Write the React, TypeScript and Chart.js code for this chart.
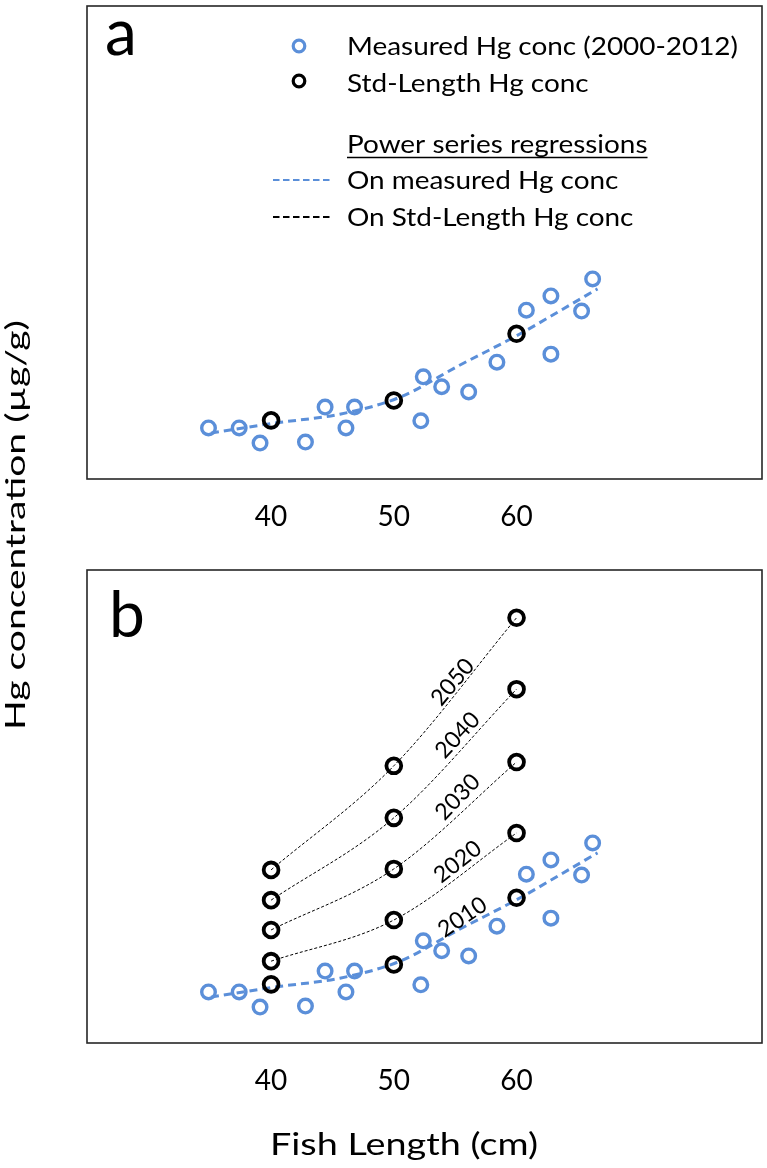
import React, { useEffect, useLayoutEffect, useRef } from "react";
import { Chart, registerables } from "chart.js";

Chart.register(...registerables);

const FONT = "Lato, 'Open Sans', sans-serif";
const BLUE = "#5b8fd9";

// ---- data (fish length in cm, Hg concentration in µg/g) ----
const measuredLength = [34.9, 37.4, 39.1, 42.8, 44.4, 46.1, 46.8, 52.2, 52.4, 53.9, 56.1, 58.4, 60.8, 62.8, 62.8, 65.3, 66.2];
const measuredHg = [0.108, 0.108, 0.076, 0.078, 0.152, 0.108, 0.152, 0.123, 0.216, 0.195, 0.184, 0.247, 0.357, 0.387, 0.264, 0.355, 0.423];

// power-series regression on measured Hg conc
const fitLength = [35.1, 40.2, 45.6, 50.5, 55.4, 60.3, 63.5, 66.6];
const fitHg = [0.097, 0.118, 0.137, 0.173, 0.241, 0.307, 0.355, 0.402];

// standard-length Hg conc by year
const stdLength = [40, 50, 60];
const stdYears = ["2010", "2020", "2030", "2040", "2050"];
const std2010 = [0.124, 0.166, 0.307];
const std2020 = [0.173, 0.26, 0.444];
const std2030 = [0.239, 0.368, 0.594];
const std2040 = [0.302, 0.476, 0.748];
const std2050 = [0.366, 0.586, 0.899];
const stdSeries = [std2010, std2020, std2030, std2040, std2050];

const xTicks = [40, 50, 60];

// year label anchors (data coordinates) and angles
const yearLabelLength = [55.6, 55.2, 55.2, 55.2, 54.8];
const yearLabelHg = [0.266, 0.383, 0.52, 0.651, 0.763];
const yearLabelAngle = [-34, -38, -46, -47, -50];

const W = 767;
const PLOT_BOTTOM = 479;

function drawFitted(ctx: CanvasRenderingContext2D, text: string, x: number, y: number, sx: number) {
  ctx.save();
  ctx.translate(x, y);
  ctx.scale(sx, 1);
  ctx.textAlign = "left";
  ctx.textBaseline = "alphabetic";
  ctx.fillText(text, 0, 0);
  ctx.restore();
}

function decoPlugin(panel: "a" | "b") {
  return {
    id: "deco" + panel,
    beforeDatasetsDraw(chart: any) {
      const { ctx, chartArea } = chart;
      ctx.save();
      ctx.strokeStyle = "#262626";
      ctx.lineWidth = 1.6;
      ctx.strokeRect(chartArea.left, chartArea.top, chartArea.right - chartArea.left, chartArea.bottom - chartArea.top);
      ctx.restore();
    },
    afterDatasetsDraw(chart: any) {
      const { ctx } = chart;
      const xs = chart.scales.x;
      const ys = chart.scales.y;
      ctx.save();
      ctx.fillStyle = "#000";
      // panel letter
      ctx.font = `64px ${FONT}`;
      const m = ctx.measureText(panel);
      ctx.textBaseline = "alphabetic";
      ctx.textAlign = "left";
      if (panel === "a") ctx.fillText(panel, 107 + m.actualBoundingBoxLeft, 55);
      else ctx.fillText(panel, 113 + m.actualBoundingBoxLeft, 637 - 564);

      if (panel === "a") {
        // legend
        ctx.font = `25.5px ${FONT}`;
        const sx = 391 / ctx.measureText("Measured Hg conc (2000-2012)").width;
        const tx = 347;
        drawFitted(ctx, "Measured Hg conc (2000-2012)", tx, 55, sx);
        drawFitted(ctx, "Std-Length Hg conc", tx, 92, sx);
        drawFitted(ctx, "Power series regressions", tx, 153, sx);
        drawFitted(ctx, "On measured Hg conc", tx, 189, sx);
        drawFitted(ctx, "On Std-Length Hg conc", tx, 226, sx);
        const pw = ctx.measureText("Power series regressions").width * sx;
        ctx.strokeStyle = "#000";
        ctx.lineWidth = 1.6;
        ctx.beginPath();
        ctx.moveTo(tx, 157.5);
        ctx.lineTo(tx + pw, 157.5);
        ctx.stroke();
        // markers
        ctx.lineWidth = 3.2;
        ctx.strokeStyle = BLUE;
        ctx.beginPath();
        ctx.arc(299, 46, 5.8, 0, Math.PI * 2);
        ctx.stroke();
        ctx.strokeStyle = "#000";
        ctx.beginPath();
        ctx.arc(299, 81, 5.8, 0, Math.PI * 2);
        ctx.stroke();
        // dashed legend lines
        ctx.lineWidth = 2;
        ctx.setLineDash([6.5, 3.5]);
        ctx.strokeStyle = BLUE;
        ctx.beginPath();
        ctx.moveTo(273, 180);
        ctx.lineTo(333, 180);
        ctx.stroke();
        ctx.strokeStyle = "#000";
        ctx.beginPath();
        ctx.moveTo(273, 217);
        ctx.lineTo(333, 217);
        ctx.stroke();
        ctx.setLineDash([]);
      } else {
        // year labels along the curves
        ctx.font = `23px ${FONT}`;
        ctx.textAlign = "center";
        ctx.textBaseline = "middle";
        stdYears.forEach((yr, i) => {
          ctx.save();
          ctx.translate(xs.getPixelForValue(yearLabelLength[i]), ys.getPixelForValue(yearLabelHg[i]));
          ctx.rotate((yearLabelAngle[i] * Math.PI) / 180);
          ctx.fillText(yr, 0, 0);
          ctx.restore();
        });
        // x-axis title
        ctx.font = `31px ${FONT}`;
        const t = "Fish Length (cm)";
        const sx = 268 / ctx.measureText(t).width;
        drawFitted(ctx, t, 270, 1155 - 564, sx);
      }
      ctx.restore();
    },
  };
}

function buildConfig(panel: "a" | "b", height: number): any {
  const years = panel === "a" ? [0] : [0, 1, 2, 3, 4];
  // the 2010 std-length curve lies under the measured regression, so only later years show
  const curveYears = panel === "a" ? [] : [1, 2, 3, 4];
  const datasets: any[] = [];
  datasets.push({
    type: "scatter",
    label: "Std-Length Hg conc",
    data: years.flatMap((i) => stdLength.map((x, j) => ({ x, y: stdSeries[i][j] }))),
    pointRadius: 7.4,
    pointBorderWidth: 3.8,
    pointBorderColor: "#000",
    pointBackgroundColor: "rgba(0,0,0,0)",
    borderColor: "#000",
    backgroundColor: "rgba(0,0,0,0)",
    showLine: false,
    order: 0,
  });
  datasets.push({
    type: "scatter",
    label: "Measured Hg conc (2000-2012)",
    data: measuredLength.map((x, i) => ({ x, y: measuredHg[i] })),
    pointRadius: 6.8,
    pointBorderWidth: 3.4,
    pointBorderColor: BLUE,
    pointBackgroundColor: "rgba(0,0,0,0)",
    borderColor: BLUE,
    backgroundColor: "rgba(0,0,0,0)",
    showLine: false,
    order: 1,
  });
  datasets.push({
    type: "line",
    label: "On measured Hg conc",
    data: fitLength.map((x, i) => ({ x, y: fitHg[i] })),
    borderColor: BLUE,
    borderWidth: 3,
    borderDash: [8, 5],
    pointRadius: 0,
    cubicInterpolationMode: "monotone",
    fill: false,
    order: 2,
  });
  curveYears.forEach((i) =>
    datasets.push({
      type: "line",
      label: stdYears[i],
      data: stdLength.map((x, j) => ({ x, y: stdSeries[i][j] })),
      borderColor: "#000",
      borderWidth: 1,
      borderDash: [3, 2],
      pointRadius: 0,
      cubicInterpolationMode: "monotone",
      fill: false,
      order: 3,
    })
  );
  return {
    type: "scatter",
    data: { datasets },
    options: {
      animation: false,
      responsive: false,
      maintainAspectRatio: false,
      events: [],
      layout: { autoPadding: false, padding: { left: 87, right: 5, top: 6, bottom: 0 } },
      plugins: { legend: { display: false }, tooltip: { enabled: false } },
      scales: {
        x: {
          type: "linear",
          min: 25,
          max: 80,
          grid: { display: false, drawTicks: false },
          border: { display: false },
          afterBuildTicks: (s: any) => {
            s.ticks = xTicks.map((v) => ({ value: v }));
          },
          afterFit: (s: any) => {
            s.height = height - PLOT_BOTTOM;
          },
          ticks: {
            font: { family: FONT, size: 28 },
            color: "#000",
            padding: 21,
            maxRotation: 0,
            autoSkip: false,
          },
        },
        y: { type: "linear", min: 0, max: 1, display: false },
      },
    },
    plugins: [decoPlugin(panel)],
  };
}

function Panel({ panel, top, height }: { panel: "a" | "b"; top: number; height: number }) {
  const ref = useRef<HTMLCanvasElement>(null);
  useEffect(() => {
    if (!ref.current) return;
    const chart = new Chart(ref.current, buildConfig(panel, height));
    return () => chart.destroy();
  }, [panel, height]);
  return (
    <canvas
      ref={ref}
      width={W}
      height={height}
      style={{ position: "absolute", left: 0, top, width: W, height, display: "block" }}
    />
  );
}

function YTitle() {
  const ref = useRef<HTMLSpanElement>(null);
  useLayoutEffect(() => {
    const el = ref.current;
    if (!el) return;
    const w = el.offsetWidth || 1;
    el.style.transform = `translate(-50%, -50%) rotate(-90deg) scaleX(${410 / w})`;
  }, []);
  return (
    <span
      ref={ref}
      style={{
        position: "absolute",
        left: 15,
        top: 525,
        fontFamily: FONT,
        fontSize: 26,
        lineHeight: 1,
        whiteSpace: "nowrap",
        color: "#000",
        transform: "translate(-50%, -50%) rotate(-90deg)",
      }}
    >
      Hg concentration (µg/g)
    </span>
  );
}

export default function App() {
  return (
    <div style={{ position: "absolute", left: 0, top: 0, width: W, height: 1168, background: "#fff", overflow: "hidden" }}>
      <Panel panel="a" top={0} height={560} />
      <Panel panel="b" top={564} height={604} />
      <YTitle />
    </div>
  );
}
